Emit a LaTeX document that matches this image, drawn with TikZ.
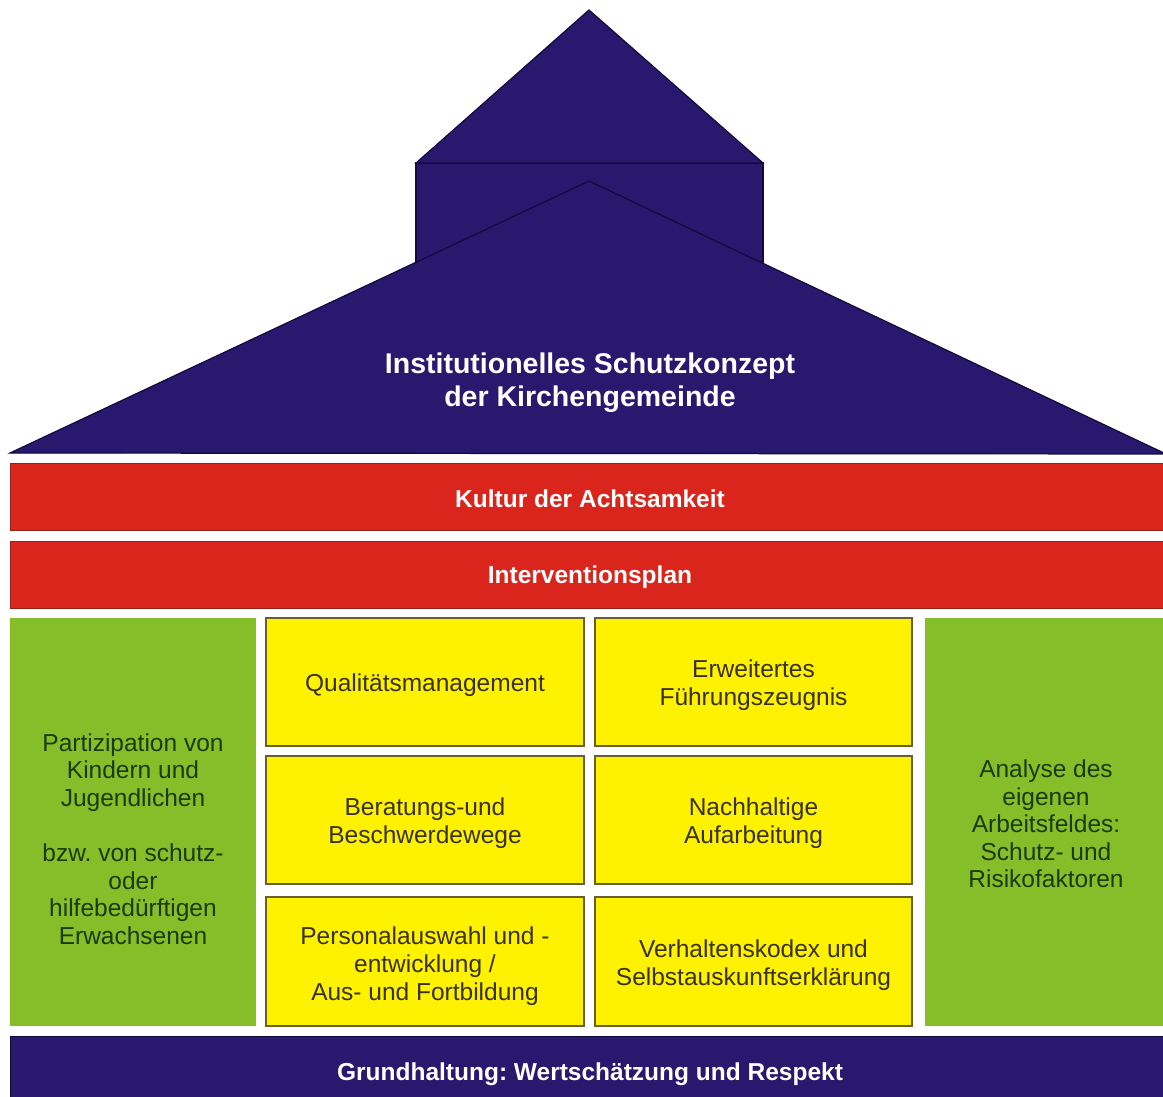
\documentclass[tikz,border=0pt]{standalone}
\usepackage{fontspec}
\setmainfont{Liberation Sans}
\frenchspacing
\definecolor{navy}{RGB}{40,24,110}
\definecolor{navyline}{RGB}{18,10,60}
\definecolor{hred}{RGB}{217,37,28}
\definecolor{hredline}{RGB}{150,35,25}
\definecolor{hgreen}{RGB}{134,190,42}
\definecolor{hyellow}{RGB}{255,242,0}
\definecolor{yline}{RGB}{105,95,45}
\definecolor{ytext}{RGB}{55,50,25}
\definecolor{gtext}{RGB}{28,58,12}
\tikzset{
  roofpart/.style={fill=navy, draw=navyline, line width=1.2pt, line join=miter},
  bar/.style={rectangle, fill=hred, draw=hredline, line width=0.8pt, inner sep=0pt},
  basebar/.style={rectangle, fill=navy, draw=navyline, line width=0.8pt, inner sep=0pt},
  bartxt/.style={text=white, font=\fontsize{24.5}{28}\selectfont\bfseries, inner sep=0pt},
  ybox/.style={rectangle, fill=hyellow, draw=yline, line width=2pt, inner sep=0pt},
  ytxt/.style={text=ytext, font=\fontsize{24.5}{28}\selectfont, align=center, inner sep=0pt},
  gbox/.style={rectangle, fill=hgreen, draw=none, inner sep=0pt},
  gtxt/.style={text=gtext, font=\fontsize{24.5}{27.6}\selectfont, align=center, inner sep=0pt},
  titletxt/.style={text=white, font=\fontsize{28.5}{33}\selectfont\bfseries, align=center, inner sep=0pt}
}
\begin{document}
\begin{tikzpicture}[x=1pt,y=-1pt]
\useasboundingbox (0,0) rectangle (1163,1097);
\clip (0,0) rectangle (1163,1097);
% roof
\path[roofpart] (416,163) rectangle (763,453);
\path[roofpart] (589,10) -- (763,163) -- (416,163) -- cycle;
\path[roofpart] (10,453) -- (589,181) -- (1166,454) -- cycle;
\node[titletxt] (title) at (590,382.5) {Institutionelles Schutzkonzept\\der Kirchengemeinde};
% bars
\node[bar, minimum width=1160pt, minimum height=67pt] (kultur) at (590,496.5) {};
\node[bartxt] (kulturt) at ([yshift=-2pt]kultur.center) {Kultur der Achtsamkeit};
\node[bar, minimum width=1160pt, minimum height=67pt] (interv) at (590,574.5) {};
\node[bartxt] (intervt) at ([yshift=-3pt]interv.center) {Interventionsplan};
% left green
\node[gbox, minimum width=246pt, minimum height=408pt] (gleft) at (133,822) {};
\node[gtxt] (gleftt) at (133,839) {Partizipation von\\Kindern und\\Jugendlichen\\[27.6pt]bzw. von schutz-\\oder\\hilfebedürftigen\\Erwachsenen};
% right green
\node[gbox, minimum width=242pt, minimum height=408pt] (gright) at (1046,822) {};
\node[gtxt] (grightt) at (1046,824) {Analyse des\\eigenen\\Arbeitsfeldes:\\Schutz- und\\Risikofaktoren};
% yellow boxes
\node[ybox, minimum width=318pt, minimum height=128pt] (q) at (425,682) {};
\node[ytxt] (qt) at ([yshift=-3.5pt]q.center) {Qualitätsmanagement};
\node[ybox, minimum width=317pt, minimum height=128pt] (f) at (753.5,682) {};
\node[ytxt] (ft) at ([yshift=-3.5pt]f.center) {Erweitertes\\Führungszeugnis};
\node[ybox, minimum width=318pt, minimum height=128pt] (b) at (425,820) {};
\node[ytxt] (bt) at ([yshift=-3pt]b.center) {Beratungs-und\\Beschwerdewege};
\node[ybox, minimum width=317pt, minimum height=128pt] (n) at (753.5,820) {};
\node[ytxt] (nt) at ([yshift=-3pt]n.center) {Nachhaltige\\Aufarbeitung};
\node[ybox, minimum width=318pt, minimum height=129pt] (p) at (425,961.5) {};
\node[ytxt] (pt) at ([yshift=-5pt]p.center) {Personalauswahl und -\\entwicklung /\\Aus- und Fortbildung};
\node[ybox, minimum width=317pt, minimum height=129pt] (v) at (753.5,961.5) {};
\node[ytxt] (vt) at ([yshift=-4pt]v.center) {Verhaltenskodex und\\Selbstauskunftserklärung};
% base
\node[basebar, minimum width=1160pt, minimum height=70pt] (base) at (590,1071) {};
\node[bartxt] (baset) at ([yshift=-3pt]base.center) {Grundhaltung: Wertschätzung und Respekt};
\end{tikzpicture}
\end{document}
